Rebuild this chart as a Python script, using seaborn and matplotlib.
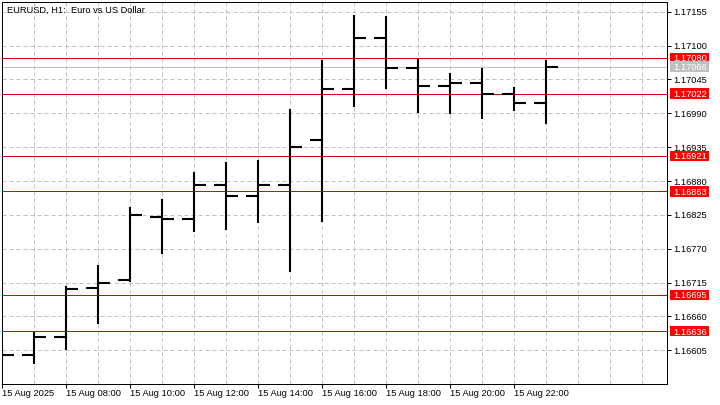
import pandas as pd
import matplotlib
matplotlib.use("Agg")
import matplotlib.pyplot as plt
import matplotlib.ticker as mticker
import matplotlib.transforms as mtransforms
from matplotlib.patches import Rectangle
import seaborn as sns

# hourly bars, 15 Aug 2025 (hour of day)
hours = [6, 7, 8, 9, 10, 11, 12, 13, 14, 15, 16, 17, 18, 19, 20, 21, 22, 23]
opens = [1.16600, 1.16597, 1.16627, 1.16707, 1.16719, 1.16821, 1.16819, 1.16873, 1.16855,
         1.16873, 1.16946, 1.17030, 1.17112, 1.17064, 1.17034, 1.17040, 1.17021, 1.17006]
highs = [1.16612, 1.16634, 1.16709, 1.16744, 1.16838, 1.16850, 1.16895, 1.16911, 1.16914,
         1.16997, 1.17077, 1.17150, 1.17148, 1.17079, 1.17056, 1.17063, 1.17032, 1.17077]
lows = [1.16590, 1.16583, 1.16606, 1.16647, 1.16716, 1.16761, 1.16797, 1.16801, 1.16812,
        1.16732, 1.16813, 1.17001, 1.17030, 1.16991, 1.16989, 1.16981, 1.16994, 1.16973]
closes = [1.16597, 1.16627, 1.16705, 1.16714, 1.16825, 1.16819, 1.16873, 1.16855, 1.16873,
          1.16936, 1.17030, 1.17112, 1.17064, 1.17034, 1.17040, 1.17021, 1.17006, 1.17066]

levels = [1.17080, 1.17022, 1.16921, 1.16863, 1.16695, 1.16636]
bid = 1.17066

x_ticks = [6, 8, 10, 12, 14, 16, 18, 20, 22]
x_labels = ["15 Aug 2025", "15 Aug 08:00", "15 Aug 10:00", "15 Aug 12:00", "15 Aug 14:00",
            "15 Aug 16:00", "15 Aug 18:00", "15 Aug 20:00", "15 Aug 22:00"]
y_ticks = [1.16605, 1.16660, 1.16715, 1.16770, 1.16825, 1.16880, 1.16935, 1.16990,
           1.17045, 1.17100, 1.17155]

sns.set_style("white")
plt.rcParams["font.family"] = ["Liberation Sans", "DejaVu Sans"]
FS = 6.7

# long-form segments: high-low stem, open tick (left), close tick (right)
half = 0.365
rows = []
for i, h in enumerate(hours):
    rows += [(f"hl{i}", h, lows[i]), (f"hl{i}", h, highs[i]),
             (f"o{i}", h - half, opens[i]), (f"o{i}", h, opens[i]),
             (f"c{i}", h, closes[i]), (f"c{i}", h + half, closes[i])]
bars = pd.DataFrame(rows, columns=["seg", "hour", "price"])

fig = plt.figure(figsize=(7.2, 4.05), dpi=100)
ax = fig.add_axes([2 / 720, 21 / 405, 665 / 720, 382 / 405])

sns.lineplot(data=bars, x="hour", y="price", units="seg", estimator=None, sort=False,
             color="black", linewidth=1.5, solid_capstyle="butt", ax=ax, zorder=3)

ax.set_xlim(6, 6 + 665 / 32)
ax.set_ylim(1.165503, 1.171708)
ax.set_xlabel("")
ax.set_ylabel("")

# grid
ax.set_xticks(x_ticks)
ax.set_xticklabels(x_labels)
ax.xaxis.set_minor_locator(mticker.MultipleLocator(1))
ax.set_yticks(y_ticks)
ax.yaxis.set_major_formatter(mticker.FormatStrFormatter("%.5f"))
ax.grid(True, which="both", axis="x", color="#c0c0c0", lw=0.72, ls=(0, (4, 3)))
ax.grid(True, which="major", axis="y", color="#c0c0c0", lw=0.72, ls=(0, (4, 3)))
ax.set_axisbelow(True)

ax.yaxis.tick_right()
ax.tick_params(axis="y", which="major", direction="out", length=2.9, width=0.72,
               pad=1.5, labelsize=FS, colors="black", right=True, left=False)
ax.tick_params(axis="x", which="major", direction="out", length=2.9, width=0.72,
               pad=0.8, labelsize=FS, colors="black", bottom=True)
ax.tick_params(axis="x", which="minor", length=0)
for lab in ax.get_xticklabels():
    lab.set_horizontalalignment("left")

for s in ax.spines.values():
    s.set_color("black")
    s.set_linewidth(0.72)

# horizontal levels and bid line
for lv in levels:
    ax.axhline(lv, color="#dd0000", lw=0.72, zorder=2)
ax.axhline(bid, color="#c0c0c0", lw=0.72, zorder=2)

# price labels on the right scale
trans = mtransforms.blended_transform_factory(ax.transAxes, ax.transData)
box_h = 10.4 / 61564
for lv, fc in [(v, "#ff0000") for v in levels] + [(bid, "#c0c0c0")]:
    ax.add_patch(Rectangle((667.3 / 665 + 0.0005, lv - box_h / 2), 39 / 665, box_h,
                           transform=trans, facecolor=fc, edgecolor="none",
                           clip_on=False, zorder=5))
    ax.text(671.3 / 665, lv, f"{lv:.5f}", transform=trans, color="white", fontsize=FS,
            ha="left", va="center_baseline", clip_on=False, zorder=6)

ax.annotate("EURUSD, H1:  Euro vs US Dollar", xy=(0, 1), xycoords="axes fraction",
            xytext=(3.6, -2.4), textcoords="offset points", ha="left", va="top",
            fontsize=FS, color="black")

fig.savefig("out.png", dpi=100, facecolor="white")
